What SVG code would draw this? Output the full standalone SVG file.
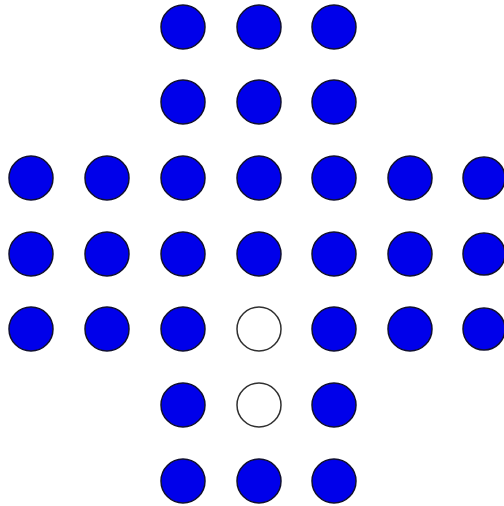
<svg xmlns="http://www.w3.org/2000/svg" width="504" height="506" viewBox="0 0 504 506">
<style>
.peg{fill:#0000ea;stroke:#101030;stroke-width:1.5}
.hole{fill:#ffffff;stroke:#303030;stroke-width:1.5}
</style>
<rect width="504" height="506" fill="#ffffff"/>
<g id="connectors"/>
<g id="r1c3"><circle class="peg" cx="183" cy="27" r="22"/></g>
<g id="r1c4"><circle class="peg" cx="259" cy="27" r="22"/></g>
<g id="r1c5"><circle class="peg" cx="334" cy="27" r="22"/></g>
<g id="r2c3"><circle class="peg" cx="183" cy="102" r="22"/></g>
<g id="r2c4"><circle class="peg" cx="259" cy="102" r="22"/></g>
<g id="r2c5"><circle class="peg" cx="334" cy="102" r="22"/></g>
<g id="r3c1"><circle class="peg" cx="31" cy="178" r="22"/></g>
<g id="r3c2"><circle class="peg" cx="107" cy="178" r="22"/></g>
<g id="r3c3"><circle class="peg" cx="183" cy="178" r="22"/></g>
<g id="r3c4"><circle class="peg" cx="259" cy="178" r="22"/></g>
<g id="r3c5"><circle class="peg" cx="334" cy="178" r="22"/></g>
<g id="r3c6"><circle class="peg" cx="410" cy="178" r="22"/></g>
<g id="r3c7"><circle class="peg" cx="484" cy="178" r="21"/></g>
<g id="r4c1"><circle class="peg" cx="31" cy="254" r="22"/></g>
<g id="r4c2"><circle class="peg" cx="107" cy="254" r="22"/></g>
<g id="r4c3"><circle class="peg" cx="183" cy="254" r="22"/></g>
<g id="r4c4"><circle class="peg" cx="259" cy="254" r="22"/></g>
<g id="r4c5"><circle class="peg" cx="334" cy="254" r="22"/></g>
<g id="r4c6"><circle class="peg" cx="410" cy="254" r="22"/></g>
<g id="r4c7"><circle class="peg" cx="484" cy="254" r="21"/></g>
<g id="r5c1"><circle class="peg" cx="31" cy="329" r="22"/></g>
<g id="r5c2"><circle class="peg" cx="107" cy="329" r="22"/></g>
<g id="r5c3"><circle class="peg" cx="183" cy="329" r="22"/></g>
<g id="r5c4"><circle class="hole" cx="259" cy="329" r="22"/></g>
<g id="r5c5"><circle class="peg" cx="334" cy="329" r="22"/></g>
<g id="r5c6"><circle class="peg" cx="410" cy="329" r="22"/></g>
<g id="r5c7"><circle class="peg" cx="484" cy="329" r="21"/></g>
<g id="r6c3"><circle class="peg" cx="183" cy="405" r="22"/></g>
<g id="r6c4"><circle class="hole" cx="259" cy="405" r="22"/></g>
<g id="r6c5"><circle class="peg" cx="334" cy="405" r="22"/></g>
<g id="r7c3"><circle class="peg" cx="183" cy="481" r="22"/></g>
<g id="r7c4"><circle class="peg" cx="259" cy="481" r="22"/></g>
<g id="r7c5"><circle class="peg" cx="334" cy="481" r="22"/></g>
</svg>
